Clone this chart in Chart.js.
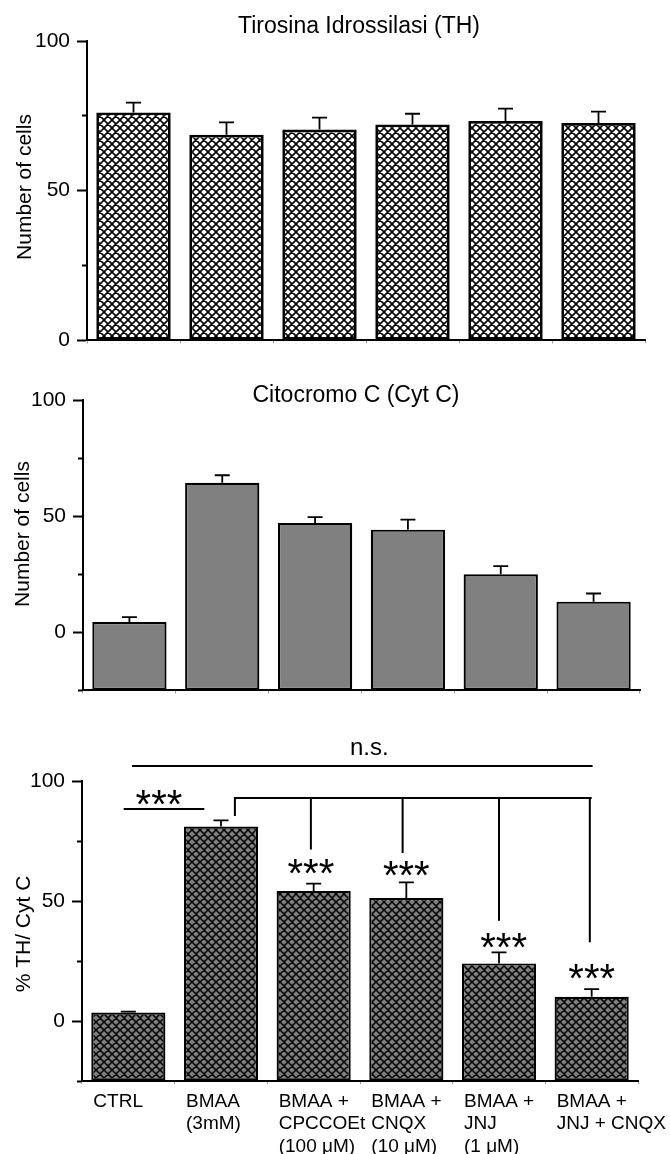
<!DOCTYPE html>
<html>
<head>
<meta charset="utf-8">
<script src="https://cdn.jsdelivr.net/npm/chart.js@4.4.1/dist/chart.umd.min.js"></script>
<style>
  body { margin: 0; background: #fff; }
  #wrap { position: relative; width: 670px; height: 1154px; }
  canvas { position: absolute; left: 0; }
</style>
</head>
<body>
<div id="wrap">
  <canvas id="thChart" width="670" height="360" style="top:0"></canvas>
  <canvas id="cytChart" width="670" height="350" style="top:360px"></canvas>
  <canvas id="ratioChart" width="670" height="444" style="top:710px"></canvas>
</div>
<script>
// --- data ---
const categories = [
  ['CTRL'],
  ['BMAA', '(3mM)'],
  ['BMAA +', 'CPCCOEt', '(100 μM)'],
  ['BMAA +', 'CNQX', '(10 μM)'],
  ['BMAA +', 'JNJ', '(1 μM)'],
  ['BMAA +', 'JNJ + CNQX']
];
const thMeans = [76.1, 68.7, 70.4, 72.1, 73.3, 72.6];
const thSem = [3.3, 4.1, 4.0, 3.6, 4.1, 3.8];
const cytMeans = [4.4, 64.4, 47.1, 44.2, 25.0, 13.2];
const cytSem = [2.1, 3.2, 2.5, 4.3, 3.5, 3.5];
const ratioMeans = [3.5, 81.0, 54.2, 51.2, 24.0, 10.1];
const ratioSem = [0.4, 2.6, 3.0, 6.6, 4.6, 3.2];
const labeledTicks = [0, 50, 100];

// significance marks on the ratio panel (x = category index, y = data units)
const nsLine = { from: 0.04, to: 5.01, y: 106.3, textX: 2.6, textY: 110.8 };
const ctrlLine = { from: -0.05, to: 0.82, y: 88.3 };
const bracket = { from: 1.15, to: 5.0, y: 92.9, startDrop: 85.4 };
const bracketDrops = [
  { x: 1.97, y: 71.5 },
  { x: 2.96, y: 70.0 },
  { x: 4.0, y: 41.8 },
  { x: 4.98, y: 32.8 }
];
const starMarks = [
  { x: 0.33, y: 94.6 },
  { x: 1.97, y: 65.7 },
  { x: 3.0, y: 64.7 },
  { x: 4.05, y: 35.0 },
  { x: 5.0, y: 21.8 }
];

const FONT = "'Liberation Sans', Arial, sans-serif";
Chart.defaults.font.family = FONT;
Chart.defaults.color = '#000';
Chart.defaults.animation = false;

function makeHatch(bg, size, lw) {
  const c = document.createElement('canvas');
  c.width = c.height = size;
  const g = c.getContext('2d');
  g.fillStyle = bg;
  g.fillRect(0, 0, size, size);
  g.strokeStyle = '#000';
  g.lineWidth = lw;
  g.beginPath();
  for (let k = -1; k <= 1; k++) {
    g.moveTo(k * size, 0); g.lineTo(k * size + size, size);
    g.moveTo(k * size + size, 0); g.lineTo(k * size, size);
  }
  g.stroke();
  return g.createPattern(c, 'repeat');
}

// upper error bars only
const errorBars = {
  id: 'errorBars',
  afterDatasetsDraw(chart, args, opts) {
    const sem = opts.sem;
    if (!sem) return;
    const values = chart.data.datasets[0].data;
    const yScale = chart.scales.y;
    const ctx = chart.ctx;
    ctx.save();
    ctx.strokeStyle = '#000';
    ctx.lineWidth = 1.8;
    chart.getDatasetMeta(0).data.forEach((bar, i) => {
      const top = yScale.getPixelForValue(values[i] + sem[i]);
      ctx.beginPath();
      ctx.moveTo(bar.x, bar.y);
      ctx.lineTo(bar.x, top);
      ctx.moveTo(bar.x - 7.5, top);
      ctx.lineTo(bar.x + 7.5, top);
      ctx.stroke();
    });
    ctx.restore();
  }
};

// panel title + rotated y axis title
const panelText = {
  id: 'panelText',
  afterDraw(chart, args, o) {
    const ctx = chart.ctx;
    ctx.save();
    ctx.fillStyle = '#000';
    ctx.textAlign = 'center';
    if (o.title) {
      ctx.textBaseline = 'alphabetic';
      ctx.font = `23px ${FONT}`;
      ctx.fillText(o.title, o.titleX, o.titleY);
    }
    ctx.translate(o.axisX, o.axisY);
    ctx.rotate(-Math.PI / 2);
    ctx.textBaseline = 'middle';
    ctx.font = `21px ${FONT}`;
    ctx.fillText(o.axisTitle, 0, 0);
    ctx.restore();
  }
};

const significance = {
  id: 'significance',
  afterDraw(chart) {
    const x = chart.scales.x, y = chart.scales.y;
    const px = v => x.getPixelForValue(v);
    const py = v => y.getPixelForValue(v);
    const ctx = chart.ctx;
    ctx.save();
    ctx.strokeStyle = '#000';
    ctx.lineWidth = 2;
    ctx.beginPath();
    ctx.moveTo(px(nsLine.from), py(nsLine.y)); ctx.lineTo(px(nsLine.to), py(nsLine.y));
    ctx.moveTo(px(ctrlLine.from), py(ctrlLine.y)); ctx.lineTo(px(ctrlLine.to), py(ctrlLine.y));
    ctx.moveTo(px(bracket.from), py(bracket.startDrop));
    ctx.lineTo(px(bracket.from), py(bracket.y));
    ctx.lineTo(px(bracket.to), py(bracket.y));
    bracketDrops.forEach(d => {
      ctx.moveTo(px(d.x), py(bracket.y));
      ctx.lineTo(px(d.x), py(d.y));
    });
    ctx.stroke();

    ctx.fillStyle = '#000';
    ctx.textAlign = 'center';
    ctx.textBaseline = 'alphabetic';
    ctx.font = `24px ${FONT}`;
    ctx.fillText('n.s.', px(nsLine.textX), py(nsLine.textY));
    const starSize = 40;
    ctx.font = `${starSize}px ${FONT}`;
    starMarks.forEach(s => {
      ctx.fillText('***', px(s.x), py(s.y) + 0.59 * starSize);
    });
    ctx.restore();
  }
};

function yAxis(min, width) {
  return {
    min: min,
    max: 100,
    afterFit: s => { s.width = width; },
    border: { color: '#000', width: 2 },
    grid: {
      drawOnChartArea: false,
      tickLength: 10,
      tickColor: '#000',
      tickWidth: 2,
      // short minor ticks: skip the outer half of the mark
      tickBorderDash: c => (c.tick && labeledTicks.includes(c.tick.value)) ? [] : [0, 5, 5, 30]
    },
    ticks: {
      stepSize: 25,
      padding: 7,
      font: { size: 21 },
      callback: v => labeledTicks.includes(v) ? String(v) : ''
    }
  };
}

function xAxis(height, showLabels) {
  return {
    afterFit: s => { s.height = height; s.paddingLeft = 0; s.paddingRight = 0; },
    border: { color: '#000', width: 2 },
    grid: { drawOnChartArea: false, tickLength: 3, tickColor: '#999', tickWidth: 1 },
    ticks: {
      display: showLabels,
      autoSkip: false,
      maxRotation: 0,
      minRotation: 0,
      align: 'start',
      labelOffset: -35,
      padding: 6,
      font: { size: 19, lineHeight: 1.2 }
    }
  };
}

function buildPanel(id, cfg) {
  return new Chart(document.getElementById(id), {
    type: 'bar',
    data: {
      labels: categories,
      datasets: [{
        data: cfg.values,
        base: cfg.min,
        backgroundColor: cfg.fill,
        borderColor: '#000',
        borderWidth: cfg.border,
        borderSkipped: false,
        barPercentage: 0.8,
        categoryPercentage: 1.0
      }]
    },
    options: {
      responsive: false,
      layout: { padding: { top: cfg.padTop, right: cfg.padRight, left: 0, bottom: 0 } },
      scales: {
        x: xAxis(cfg.xHeight, cfg.showLabels),
        y: yAxis(cfg.min, cfg.yWidth)
      },
      plugins: {
        legend: { display: false },
        tooltip: { enabled: false },
        errorBars: { sem: cfg.sem },
        panelText: cfg.text
      }
    },
    plugins: cfg.extra ? [errorBars, panelText, cfg.extra] : [errorBars, panelText]
  });
}

buildPanel('thChart', {
  values: thMeans, sem: thSem, min: 0,
  fill: makeHatch('#fff', 8, 1.6), border: 2.8,
  padTop: 41, padRight: 25, xHeight: 19, yWidth: 87, showLabels: false,
  text: { title: 'Tirosina Idrossilasi (TH)', titleX: 359, titleY: 33,
          axisTitle: 'Number of cells', axisX: 25, axisY: 187 }
});

buildPanel('cytChart', {
  values: cytMeans, sem: cytSem, min: -25,
  fill: '#808080', border: 2.2,
  padTop: 40, padRight: 30, xHeight: 10, yWidth: 83, showLabels: false,
  text: { title: 'Citocromo C (Cyt C)', titleX: 356, titleY: 42,
          axisTitle: 'Number of cells', axisX: 23, axisY: 174 }
});

buildPanel('ratioChart', {
  values: ratioMeans, sem: ratioSem, min: -25,
  fill: makeHatch('#808080', 8, 1.5), border: 2.2,
  padTop: 71, padRight: 32, xHeight: 73, yWidth: 82, showLabels: true,
  text: { title: '', axisTitle: '% TH/ Cyt C', axisX: 24, axisY: 224 },
  extra: significance
});
</script>
</body>
</html>
